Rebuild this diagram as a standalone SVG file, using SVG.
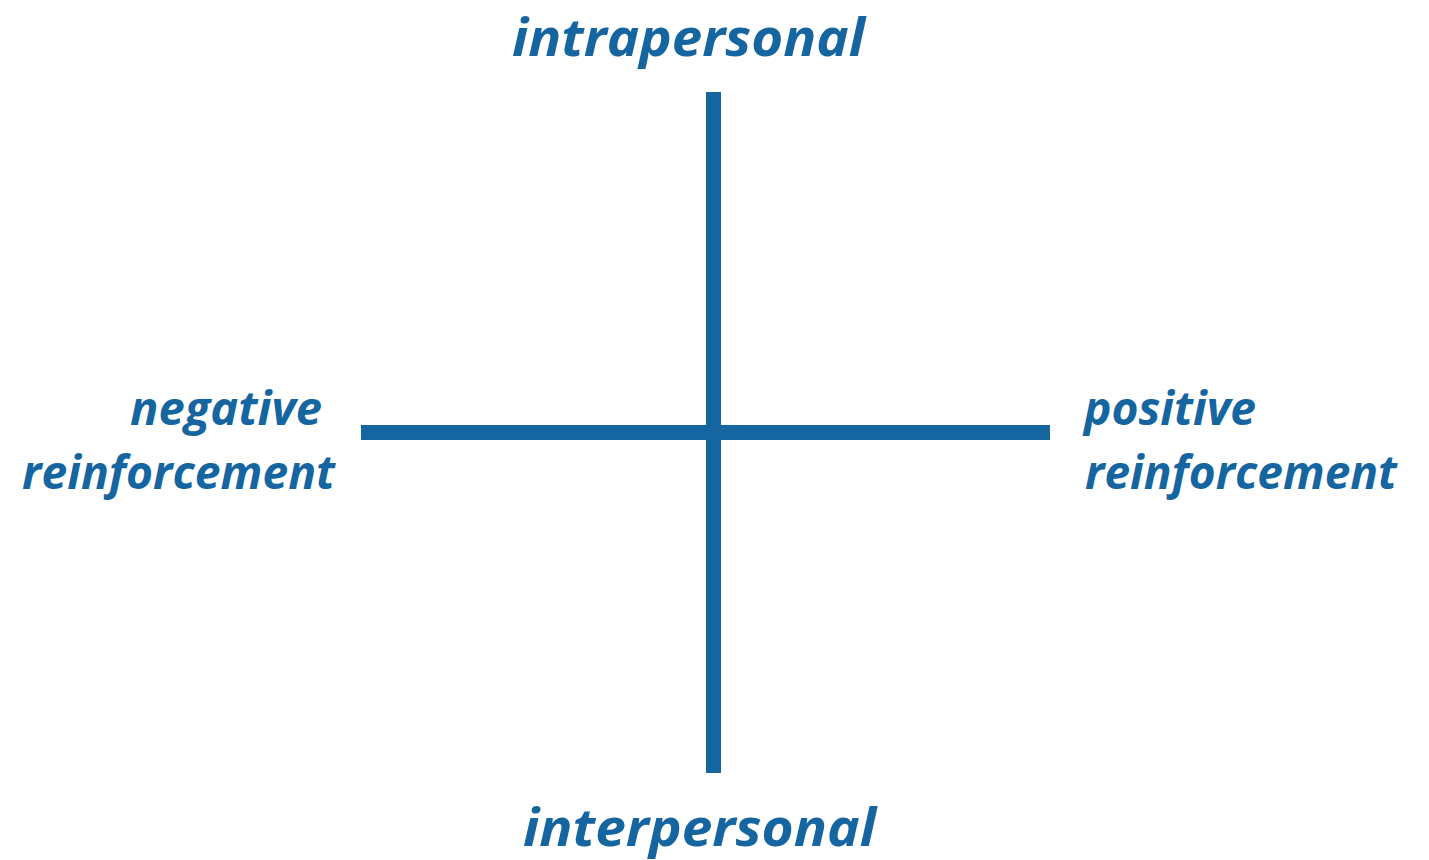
<svg xmlns="http://www.w3.org/2000/svg" width="1429" height="860" viewBox="0 0 1429 860">
<style>
.lbl{font-family:"Open Sans","Noto Sans","DejaVu Sans",sans-serif;font-weight:bold;font-style:italic;fill:#1565a1}
.big{font-size:52px}
.small{font-size:47px}
.axis{stroke:#1565a1;stroke-width:15;fill:none}
</style>
<rect width="1429" height="860" fill="#ffffff"/>
<g id="connectors">
<line class="axis" x1="713.5" y1="92" x2="713.5" y2="773"/>
<line class="axis" x1="361" y1="432.5" x2="1050" y2="432.5"/>
</g>
<g id="intrapersonal"><text class="lbl big" x="512" y="56" textLength="353" lengthAdjust="spacingAndGlyphs">intrapersonal</text></g>
<g id="interpersonal"><text class="lbl big" x="523" y="846" textLength="353" lengthAdjust="spacingAndGlyphs">interpersonal</text></g>
<g id="negative">
<text class="lbl small" x="130" y="425" textLength="192" lengthAdjust="spacingAndGlyphs">negative</text>
<text class="lbl small" x="22" y="489" textLength="313" lengthAdjust="spacingAndGlyphs">reinforcement</text>
</g>
<g id="positive">
<text class="lbl small" x="1084" y="425" textLength="172" lengthAdjust="spacingAndGlyphs">positive</text>
<text class="lbl small" x="1085" y="489" textLength="312" lengthAdjust="spacingAndGlyphs">reinforcement</text>
</g>
</svg>
